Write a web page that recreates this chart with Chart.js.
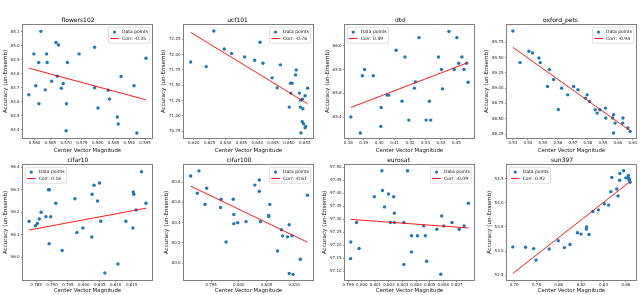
<!DOCTYPE html>
<html><head><meta charset="utf-8">
<script src="https://cdn.jsdelivr.net/npm/chart.js@4.4.0/dist/chart.umd.min.js"></script>
<style>
html,body{margin:0;padding:0;background:#fff;width:640px;height:295px;overflow:hidden;position:relative}
canvas{position:absolute}
</style></head><body>
<script>
// ---------- data ----------
const titles = ['flowers102','ucf101','dtd','oxford_pets','cifar10','cifar100','eurosat','sun397'];
const corrLabels = ['-0.35','-0.76','0.49','-0.94','0.16','-0.61','-0.09','0.92'];
const xAxisTitle = 'Center Vector Magnitude';
const yAxisTitle = 'Accuracy (un-Ensemb)';

const flowersX = [0.5582,0.5598,0.5604,0.5613,0.5614,0.5620,0.5634,0.5638,0.5640,0.5654,0.5668,0.5672,0.5676,0.5685,0.5691,0.5701,0.5700,0.5704,0.5741,0.5790,0.5790,0.5801,0.5833,0.5837,0.5862,0.5865,0.5874,0.5915,0.5924,0.5953];
const flowersY = [84.649,84.941,84.713,84.879,84.585,85.102,84.684,84.941,84.879,84.746,85.022,84.782,85.005,84.696,84.729,84.585,84.392,84.879,84.941,84.988,84.699,84.554,84.682,84.618,84.490,84.440,84.779,84.713,84.376,84.910];
const flowersFitX = [0.5582,0.5953];
const flowersFitY = [84.839,84.613];
const flowersXTicks = ['0.560','0.565','0.570','0.575','0.580','0.585','0.590','0.595'];
const flowersYTicks = ['84.4','84.5','84.6','84.7','84.8','84.9','85.0','85.1'];
const flowersXRange = [0.55635,0.59719];
const flowersYRange = [84.340,85.1475];

const ucfX = [0.6190,0.6239,0.6263,0.6296,0.6319,0.6360,0.6392,0.6409,0.6418,0.6447,0.6463,0.6473,0.6501,0.6505,0.6510,0.6506,0.6521,0.6523,0.6533,0.6537,0.6543,0.6536,0.6544,0.6551,0.6559,0.6542,0.6546,0.6551,0.6553,0.6538];
const ucfY = [71.880,71.804,72.386,72.092,72.016,71.962,71.908,72.201,71.859,71.620,71.456,71.832,71.141,71.533,71.533,71.370,71.668,71.750,71.370,71.255,71.272,71.141,71.114,71.326,71.451,70.902,70.870,70.804,70.826,70.717];
const ucfFitX = [0.6190,0.6559];
const ucfFitY = [72.364,71.196];
const ucfXTicks = ['0.620','0.625','0.630','0.635','0.640','0.645','0.650','0.655'];
const ucfYTicks = ['70.75','71.00','71.25','71.50','71.75','72.00','72.25'];
const ucfXRange = [0.6169,0.6576];
const ucfYRange = [70.636,72.484];

const dtdX = [0.3817,0.3878,0.3891,0.3906,0.3962,0.4011,0.4013,0.4051,0.4062,0.4110,0.4148,0.4167,0.4192,0.4228,0.4235,0.4258,0.4304,0.4325,0.4334,0.4384,0.4403,0.4410,0.4452,0.4486,0.4503,0.4515,0.4536,0.4549,0.4566,0.4576];
const dtdY = [65.400,65.265,65.748,65.801,65.748,65.321,65.481,65.585,65.585,65.964,65.534,65.907,65.374,65.644,65.697,66.070,65.374,65.534,65.374,65.907,65.801,65.638,66.123,65.801,66.070,65.854,65.907,65.801,65.854,65.694];
const dtdFitX = [0.3817,0.4576];
const dtdFitY = [65.481,65.860];
const dtdXTicks = ['0.38','0.39','0.40','0.41','0.42','0.43','0.44','0.45'];
const dtdYTicks = ['65.4','65.6','65.8','66.0'];
const dtdXRange = [0.3779,0.4614];
const dtdYRange = [65.223,66.177];

const petsX = [0.5300,0.5348,0.5407,0.5431,0.5474,0.5483,0.5544,0.5531,0.5572,0.5603,0.5625,0.5666,0.5705,0.5734,0.5784,0.5795,0.5812,0.5849,0.5862,0.5880,0.5917,0.5919,0.5965,0.5971,0.5982,0.6034,0.6032,0.6067,0.6082,0.5971];
const petsY = [89.935,89.418,89.603,89.576,89.495,89.418,89.304,89.027,89.141,88.652,89.000,88.891,89.027,88.973,88.837,88.891,88.783,88.647,88.592,88.647,88.674,88.511,88.511,88.266,88.429,88.511,88.429,88.348,88.293,88.565];
const petsFitX = [0.5300,0.6082];
const petsFitY = [89.668,88.304];
const petsXTicks = ['0.53','0.54','0.55','0.56','0.57','0.58','0.59','0.60','0.61'];
const petsYTicks = ['88.25','88.50','88.75','89.00','89.25','89.50','89.75'];
const petsXRange = [0.5261,0.6121];
const petsYRange = [88.185,90.033];

const cifar10X = [0.7828,0.7848,0.7854,0.7860,0.7866,0.7881,0.7889,0.7891,0.7896,0.7912,0.7932,0.7972,0.7978,0.7997,0.8025,0.8026,0.8032,0.8043,0.8049,0.8053,0.8066,0.8107,0.8132,0.8154,0.8155,0.8157,0.8164,0.8181,0.8195,0.7892];
const cifar10Y = [96.16,96.14,96.15,96.17,96.20,96.18,96.30,96.06,96.18,96.24,96.03,96.26,96.11,96.13,96.09,96.28,96.32,96.25,96.33,96.16,95.93,95.97,96.16,96.13,96.29,96.28,96.21,96.38,96.24,96.30];
const cifar10FitX = [0.7828,0.8195];
const cifar10FitY = [96.121,96.218];
const cifar10XTicks = ['0.785','0.790','0.795','0.800','0.805','0.810','0.815'];
const cifar10YTicks = ['96.0','96.1','96.2','96.3','96.4'];
const cifar10XRange = [0.7809,0.8214];
const cifar10YRange = [95.899,96.410];

const cifar100X = [0.7913,0.7925,0.7928,0.7939,0.7942,0.7967,0.7968,0.7977,0.7990,0.7991,0.7991,0.7998,0.8013,0.8029,0.8037,0.8037,0.8039,0.8054,0.8054,0.8056,0.8070,0.8077,0.8079,0.8088,0.8091,0.8091,0.8096,0.8098,0.8111,0.8124];
const cifar100Y = [80.86,80.69,80.91,80.58,80.74,80.55,80.63,80.21,80.63,80.48,80.39,80.40,80.41,80.77,80.82,80.71,80.41,80.46,80.47,80.58,80.12,80.33,80.27,80.26,80.38,79.90,80.27,79.89,80.04,80.67];
const cifar100FitX = [0.7913,0.8124];
const cifar100FitY = [80.760,80.207];
const cifar100XTicks = ['0.795','0.800','0.805','0.810'];
const cifar100YTicks = ['80.0','80.2','80.4','80.6','80.8'];
const cifar100XRange = [0.7901,0.8134];
const cifar100YRange = [79.835,80.968];

const eurosatX = [0.79917,0.79919,0.79961,0.79980,0.80092,0.80148,0.80152,0.80167,0.80196,0.80211,0.80235,0.80240,0.80240,0.80310,0.80310,0.80337,0.80366,0.80366,0.80410,0.80456,0.80468,0.80478,0.80553,0.80589,0.80604,0.80582,0.80665,0.80718,0.80754,0.80786];
const eurosatY = [97.148,97.212,97.287,97.187,97.386,97.486,97.410,97.347,97.397,97.287,97.386,97.323,97.287,97.287,97.126,97.486,97.236,97.174,97.236,97.274,97.236,97.138,97.261,97.312,97.274,97.088,97.287,97.261,97.274,97.361];
const eurosatFitX = [0.79917,0.80786];
const eurosatFitY = [97.299,97.266];
const eurosatXTicks = ['0.799','0.800','0.801','0.802','0.803','0.804','0.805','0.806','0.807'];
const eurosatYTicks = ['97.10','97.15','97.20','97.25','97.30','97.35','97.40','97.45','97.50'];
const eurosatXRange = [0.79876,0.80827];
const eurosatYRange = [97.066,97.508];

const sun397X = [0.7588,0.7702,0.7775,0.7796,0.7913,0.7995,0.8050,0.8100,0.8167,0.8199,0.8246,0.8249,0.8270,0.8305,0.8354,0.8407,0.8445,0.8466,0.8474,0.8518,0.8530,0.8545,0.8547,0.8580,0.8600,0.8618,0.8623,0.8629,0.8632,0.8638];
const sun397Y = [53.085,53.078,53.050,52.814,53.043,53.211,53.071,53.134,53.378,53.350,53.455,53.496,53.343,53.817,53.852,53.977,53.950,54.228,54.521,54.284,54.138,54.465,54.605,54.660,54.514,54.514,54.563,54.500,54.465,54.423];
const sun397FitX = [0.7588,0.8638];
const sun397FitY = [52.535,54.437];
const sun397XTicks = ['0.76','0.78','0.80','0.82','0.84','0.86'];
const sun397YTicks = ['52.5','53.0','53.5','54.0','54.5'];
const sun397XRange = [0.7536,0.8691];
const sun397YRange = [52.40,54.78];

// ---------- layout ----------
const FONT = 'DejaVu Sans';
const plotLeft = [23,184,345,507];
const plotWidth = 131;
const plotTop = [25,165];
const plotHeight = [113,115];
const xAxisHeight = [16,14];
const legendSide = ['right','right','left','right','left','right','right','left'];

const panels = [
  [flowersX,flowersY,flowersFitX,flowersFitY,flowersXTicks,flowersYTicks,flowersXRange,flowersYRange],
  [ucfX,ucfY,ucfFitX,ucfFitY,ucfXTicks,ucfYTicks,ucfXRange,ucfYRange],
  [dtdX,dtdY,dtdFitX,dtdFitY,dtdXTicks,dtdYTicks,dtdXRange,dtdYRange],
  [petsX,petsY,petsFitX,petsFitY,petsXTicks,petsYTicks,petsXRange,petsYRange],
  [cifar10X,cifar10Y,cifar10FitX,cifar10FitY,cifar10XTicks,cifar10YTicks,cifar10XRange,cifar10YRange],
  [cifar100X,cifar100Y,cifar100FitX,cifar100FitY,cifar100XTicks,cifar100YTicks,cifar100XRange,cifar100YRange],
  [eurosatX,eurosatY,eurosatFitX,eurosatFitY,eurosatXTicks,eurosatYTicks,eurosatXRange,eurosatYRange],
  [sun397X,sun397Y,sun397FitX,sun397FitY,sun397XTicks,sun397YTicks,sun397XRange,sun397YRange]
];

const framePlugin = {
  id: 'frame',
  afterDatasetsDraw(chart) {
    const {ctx, chartArea: a} = chart;
    ctx.save();
    ctx.strokeStyle = '#808080';
    ctx.lineWidth = 1;
    ctx.strokeRect(a.left - 0.5, a.top - 0.5, a.right - a.left + 1, a.bottom - a.top + 1);
    ctx.restore();
  }
};

const boxLegendPlugin = {
  id: 'boxLegend',
  afterDraw(chart, args, opts) {
    const {ctx, chartArea: a} = chart;
    const fs = 4.5;
    ctx.save();
    ctx.font = fs + 'px "' + FONT + '"';
    const labels = ['Data points', 'Corr: ' + opts.corr];
    const tw = Math.max(...labels.map(l => ctx.measureText(l).width));
    const pad = 1.8, handle = 8.5, gap = 3.2, axpad = 2.2;
    const bw = pad + handle + gap + tw + pad;
    const bh = 16;
    const x0 = opts.side === 'right' ? a.right - axpad - bw : a.left + axpad;
    const y0 = a.top + axpad;
    ctx.beginPath();
    if (ctx.roundRect) ctx.roundRect(x0, y0, bw, bh, 1.2); else ctx.rect(x0, y0, bw, bh);
    ctx.fillStyle = 'rgba(255,255,255,0.85)';
    ctx.fill();
    ctx.strokeStyle = '#d0d0d0';
    ctx.lineWidth = 0.7;
    ctx.stroke();
    const hx0 = x0 + pad, hx1 = hx0 + handle;
    const r1 = y0 + 4.9, r2 = y0 + 11.3;
    ctx.beginPath();
    ctx.arc((hx0 + hx1) / 2, r1, 1.6, 0, Math.PI * 2);
    ctx.fillStyle = '#1f77b4';
    ctx.fill();
    ctx.beginPath();
    ctx.moveTo(hx0, r2); ctx.lineTo(hx1, r2);
    ctx.strokeStyle = 'red';
    ctx.lineWidth = 0.9;
    ctx.stroke();
    ctx.fillStyle = '#111';
    ctx.textBaseline = 'middle';
    ctx.textAlign = 'left';
    ctx.fillText(labels[0], hx1 + gap, r1);
    ctx.fillText(labels[1], hx1 + gap, r2);
    ctx.restore();
  }
};

panels.forEach((p, i) => {
  const [xs, ys, fx, fy, xT, yT, xR, yR] = p;
  const col = i % 4, row = Math.floor(i / 4);
  const maxLen = Math.max(...yT.map(s => s.length));
  const W = maxLen >= 5 ? 24 : 21;
  const L = plotLeft[col], T = plotTop[row];
  const H = plotHeight[row], XH = xAxisHeight[row];
  const topSpace = 12;
  const cw = W + plotWidth + 2, ch = topSpace + H + XH;
  const c = document.createElement('canvas');
  c.width = cw; c.height = ch;
  c.style.left = (L - W) + 'px';
  c.style.top = (T - topSpace) + 'px';
  c.style.width = cw + 'px'; c.style.height = ch + 'px';
  document.body.appendChild(c);

  const tickFont = {family: FONT, size: 4};
  new Chart(c, {
    type: 'scatter',
    data: {
      datasets: [
        {
          label: 'Corr: ' + corrLabels[i],
          data: fx.map((x, k) => ({x: x, y: fy[k]})),
          showLine: true, borderColor: 'red', borderWidth: 0.9,
          pointRadius: 0, fill: false, order: 0
        },
        {
          label: 'Data points',
          data: xs.map((x, k) => ({x: x, y: ys[k]})),
          pointRadius: 1.7, pointBackgroundColor: '#1f77b4',
          pointBorderWidth: 0, pointBorderColor: '#1f77b4', order: 1
        }
      ]
    },
    options: {
      responsive: false, animation: false, devicePixelRatio: 1,
      events: [],
      layout: {padding: {top: topSpace - 6 * 1.2 - 1.4, left: 0, right: 2, bottom: 0}},
      plugins: {
        legend: {display: false},
        tooltip: {enabled: false},
        title: {display: true, text: titles[i], color: '#000',
          font: {family: FONT, size: 6, weight: 'normal'}, padding: {top: 0, bottom: 1.4}},
        boxLegend: {side: legendSide[i], corr: corrLabels[i]}
      },
      scales: {
        x: {
          type: 'linear', position: 'bottom', min: xR[0], max: xR[1],
          afterBuildTicks: s => { s.ticks = xT.map(v => ({value: parseFloat(v)})); },
          afterFit: s => { s.height = XH; },
          ticks: {callback: (v, k) => xT[k], font: tickFont, color: '#222', padding: 0.5,
            autoSkip: false, maxRotation: 0, minRotation: 0},
          grid: {display: true, drawOnChartArea: false, drawTicks: true, tickLength: 2,
            color: '#777', lineWidth: 0.8},
          border: {display: false},
          title: {display: true, text: xAxisTitle, color: '#111',
            font: {family: FONT, size: 5.4}, padding: 0}
        },
        y: {
          type: 'linear', position: 'left', min: yR[0], max: yR[1],
          afterBuildTicks: s => { s.ticks = yT.map(v => ({value: parseFloat(v)})); },
          afterFit: s => { s.width = W; },
          ticks: {callback: (v, k) => yT[k], font: tickFont, color: '#222', padding: 1.5,
            autoSkip: false},
          grid: {display: true, drawOnChartArea: false, drawTicks: true, tickLength: 2,
            color: '#777', lineWidth: 0.8},
          border: {display: false},
          title: {display: true, text: yAxisTitle, color: '#111',
            font: {family: FONT, size: 5.6}, padding: 0}
        }
      }
    },
    plugins: [framePlugin, boxLegendPlugin]
  });
});
</script>
</body></html>
